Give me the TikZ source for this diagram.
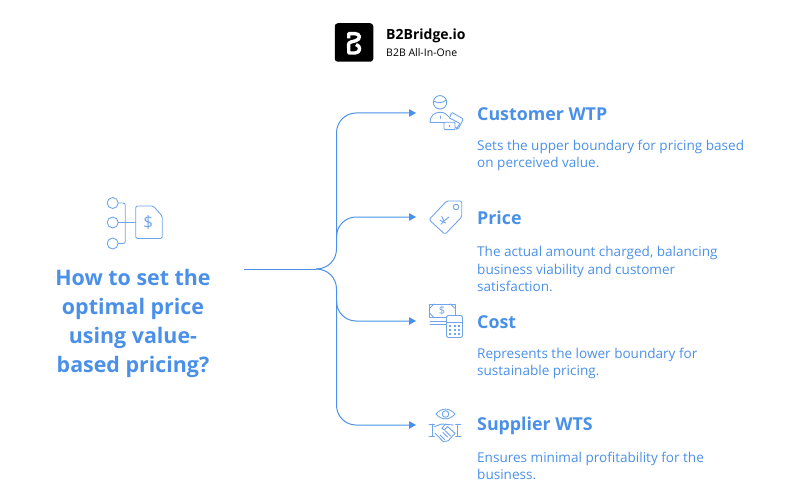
\documentclass[tikz,border=0pt]{standalone}
\usepackage{fontspec}
\setmainfont{Open Sans}
\usetikzlibrary{positioning}
\usetikzlibrary{arrows.meta}
\definecolor{bridgeBlue}{HTML}{4A90E8}
\definecolor{iconBlue}{HTML}{6FA5EC}
\tikzset{
    link/.style={draw=bridgeBlue, line width=1pt},
    linkArrow/.style={link, -{Triangle[length=7pt,width=7.5pt]}},
    heading/.style={anchor=west, inner sep=0pt, text=bridgeBlue, font=\fontsize{17.8}{22}\selectfont\bfseries},
    body/.style={anchor=north west, inner sep=0pt, align=left, text=bridgeBlue, font=\fontsize{13.55}{17.5}\selectfont},
    iconLine/.style={draw=iconBlue, line width=0.9pt, line join=round, line cap=round},
}
\tikzset{
    priceDoc/.pic={
		\draw[iconLine] (0,-19.5) circle (5.5);
		\draw[iconLine] (0,0) circle (5.5);
		\draw[iconLine] (0,21) circle (5.5);
		\draw[iconLine, rounded corners=2] (5.5,-19.5) -- (12.5,-19.5) -- (12.5,21) -- (5.5,21);
		\draw[iconLine] (5.5,0) -- (23,0);
		\draw[iconLine, rounded corners=1.5] (23,-16.5) -- (40.5,-16.5) -- (49.5,-6.5) -- (49.5,16) -- (23,16) -- cycle;
		\node[text=iconBlue, font=\fontsize{17}{17}\selectfont] (priceDocSign) at (35.5,0) {\$};
	}
}
\tikzset{
    customer/.pic={
		\draw[iconLine] (0,-10.7) circle (6.7);
		\draw[iconLine] (-6.3,-12) .. controls (-2,-9) and (2,-10) .. (6.3,-13);
		\draw[iconLine] (-10,9.3) .. controls (-10,3) and (-6,-0.7) .. (0,-0.7) .. controls (4,-0.7) and (7,1) .. (8.5,3.5);
		\draw[iconLine] (-10,9.3) -- (4,9.3);
		\draw[iconLine] (0,3) -- (0,5.5);
		\draw[iconLine, rounded corners=1] (9.5,5) -- (11.7,-0.7) -- (23.3,6) -- (18.3,16) -- (15,14);
		\draw[iconLine, rounded corners=1] (9.5,5) -- (20,10.5) -- (16,16.5);
		\draw[iconLine, fill=white, rounded corners=1] (4,9.3) rectangle (15,16.7);
		\filldraw[iconLine] (9.5,13) circle (0.4);
	}
}
\tikzset{
    pricetag/.pic={
		\draw[iconLine, rounded corners=1.5] (-15,2.7) -- (2.7,-16) -- (17.7,-16) -- (17.7,0) -- (1,17.3) -- cycle;
		\draw[iconLine] (12,-10) circle (2.8);
		\draw[iconLine] (-2.3,-0.7) -- (0,4) -- (5,0);
		\draw[iconLine] (0,4) -- (-3,7.3);
		\draw[iconLine] (-4,3.3) -- (1.7,6);
	}
}
\tikzset{
    billCalc/.pic={
		\draw[iconLine] (-17,-17) rectangle (9.5,-3.5);
		\draw[iconLine] (-16,-13) -- (-12,-17) (-16,-7.5) -- (-12,-3.5) (8.5,-13) -- (4.5,-17);
		\node[text=iconBlue, font=\fontsize{11}{11}\selectfont] (billSign) at (-4,-10) {\$};
		\draw[iconLine] (-16,0) -- (0,0) (-16,3.5) -- (0,3.5);
		\draw[iconLine, fill=white, rounded corners=1.5] (0.5,-5.5) rectangle (16.5,16.5);
		\draw[iconLine] (0.5,1) -- (16.5,1);
		\foreach \gridx in {4,8.5,13} {
			\foreach \gridy in {4.5,8.5,12.5} {
				\fill[iconBlue] (\gridx-1,\gridy-1) rectangle (\gridx+1,\gridy+1);
			}
		}
	}
}
\tikzset{
    handshake/.pic={
		% origin at (445.5,425)
		\draw[iconLine] (-9.5,-11) .. controls (-4,-17.5) and (4,-17.5) .. (9.5,-11) .. controls (4,-4.5) and (-4,-4.5) .. (-9.5,-11) -- cycle;
		\draw[iconLine] (0,-11) circle (3.3);
		\draw[iconLine] (-16.5,-1) -- (-11.2,-1) (-16.5,11.7) -- (-11.2,11.7) (-13.2,-1) -- (-13.2,11.7);
		\draw[iconLine] (10,-1) -- (15.5,-1) (10,11.7) -- (15.5,11.7) (12.2,-1) -- (12.2,11.7);
		\draw[iconLine] (-11.5,1.7) -- (-3.8,-1) -- (7.8,0);
		\draw[iconLine] (-10.5,8.3) -- (-2.2,16.7) -- (2.8,15.7) -- (9.5,8.3);
		\draw[iconLine] (-3.8,3.3) -- (0.2,-1) (-3.8,3.3) -- (-1,5) -- (2,1.5) -- (9.5,8.3);
		\draw[iconLine] (-5.5,10) -- (-1,14.5) (-2.5,7.5) -- (2,12) (0,6) -- (5,11);
	}
}

\begin{document}
\begin{tikzpicture}[x=1pt,y=-1pt]
        \useasboundingbox (0,0) rectangle (800,500);
        % logo
        \node[fill=black, rounded corners=3, minimum width=38.5, minimum height=38.5, inner sep=0pt] (logoBox) at (354,42.5) {};
        \draw[white, line width=3.4pt, line join=round] (348.7,38.5) -- (348.7,33.6) -- (355,33.6) .. controls (360.5,33.6) and (361,39.5) .. (355.5,40.8) -- (351,42) .. controls (347.5,43) and (348.7,46) .. (348.7,48) -- (348.7,53) -- (355,53) .. controls (361,53) and (361,45.5) .. (356,44.5);
        \node[anchor=west, inner sep=0pt, font=\fontsize{14}{16}\selectfont\bfseries] (logoName) at (386,36) {B2Bridge.io};
        \node[anchor=west, inner sep=0pt, font=\fontsize{10.5}{12}\selectfont] (logoSub) at (386,53) {B2B All-In-One};

        % left side
        \pic at(112.7,222.5) {priceDoc};
        \node[inner sep=0pt, align=center, text=bridgeBlue, font=\fontsize{21.4}{29}\selectfont\bfseries] (question) at (133,323.5) {How to set the\\optimal price\\using value-\\based pricing?};

        % connectors
        \coordinate (start) at (244,269);
        \coordinate (end1) at (416,113);
        \coordinate (end2) at (416,217);
        \coordinate (end3) at (416,321);
        \coordinate (end4) at (416,425);
        \draw[link] (start) -- (316,269);
        \draw[linkArrow] (316,269) .. controls (328,269) and (336.5,260) .. (336.5,249) -- (336.5,133) .. controls (336.5,122) and (345,113) .. (356,113) -- (end1);
        \draw[linkArrow] (336.5,237) .. controls (336.5,226) and (345,217) .. (356,217) -- (end2);
        \draw[linkArrow] (336.5,301) .. controls (336.5,312) and (345,321) .. (356,321) -- (end3);
        \draw[linkArrow] (316,269) .. controls (328,269) and (336.5,278) .. (336.5,289) -- (336.5,405) .. controls (336.5,416) and (345,425) .. (356,425) -- (end4);

        % right side
        \pic at(440,113) {customer};
        \pic at(444,217) {pricetag};
        \pic at(446,321) {billCalc};
        \pic at(445.5,425) {handshake};

        \node[heading] (head1) at (477,114) {Customer WTP};
        \node[heading] (head2) at (477,218) {Price};
        \node[heading] (head3) at (477,322) {Cost};
        \node[heading] (head4) at (477,426) {Supplier WTS};
        \node[body] (text1) at (477,139.5) {Sets the upper boundary for pricing based\\on perceived value.};
        \node[body] (text2) at (477,246.5) {The actual amount charged, balancing\\business viability and customer\\satisfaction.};
        \node[body] (text3) at (477,347.5) {Represents the lower boundary for\\sustainable pricing.};
        \node[body] (text4) at (477,451.5) {Ensures minimal profitability for the\\business.};
\end{tikzpicture}
\end{document}
